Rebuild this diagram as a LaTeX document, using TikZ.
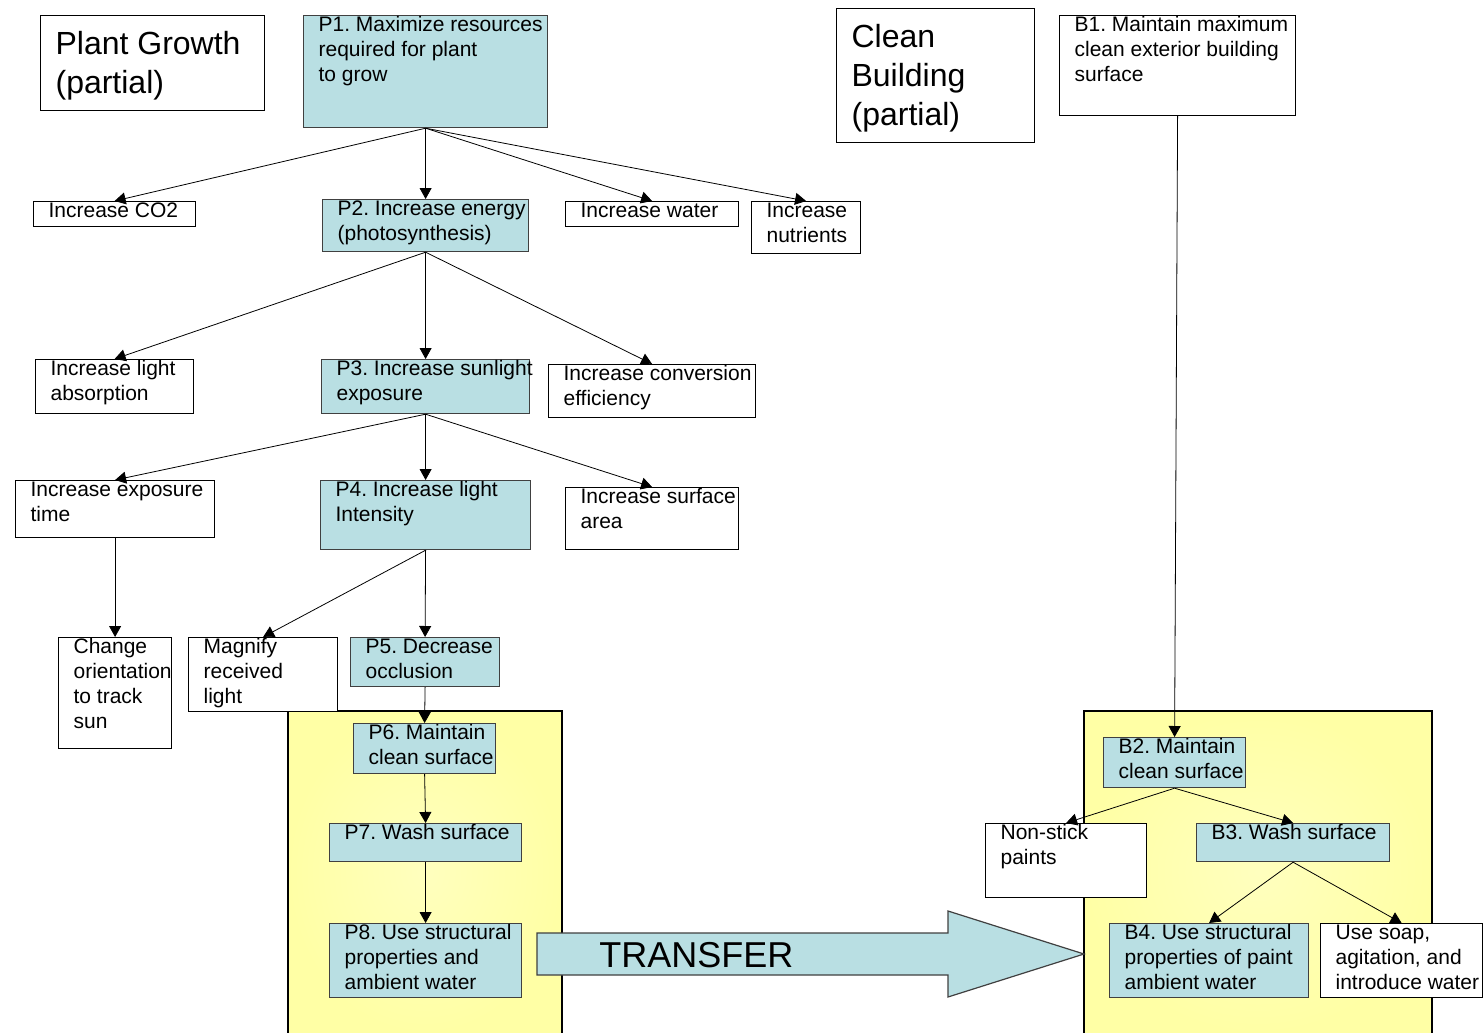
\documentclass[tikz,border=0pt]{standalone}
\usepackage{fontspec}
\setmainfont{Liberation Sans}
\frenchspacing
\usetikzlibrary{arrows.meta}
\definecolor{cellblue}{RGB}{185,223,227}
\definecolor{paneledge}{RGB}{255,255,165}
\definecolor{panelmid}{RGB}{255,255,190}
\definecolor{edgegray}{RGB}{64,64,64}
\newlength\pxu
\setlength\pxu{0.5pt}
% box of fixed size (in px), text set from the top
\newcommand\cell[3]{\parbox[t][#2\pxu][t]{#1\pxu}{\raggedright\leftskip=7.5pt\rightskip=-30pt plus 1fil\rule{0pt}{7.75pt}#3}}
% box of fixed size (in px), text centred in height
\newcommand\headcell[3]{\parbox[t][#2\pxu][c]{#1\pxu}{\raggedright\leftskip=7.5pt\rightskip=-30pt plus 1fil\vspace*{5\pxu}#3}}
\tikzset{
  goal/.style={draw=edgegray, fill=cellblue, line width=0.6pt, inner sep=0pt, anchor=north west, font=\fontsize{10.5}{12.5}\selectfont},
  option/.style={goal, draw=black, fill=white},
  heading/.style={draw=black, fill=white, line width=0.6pt, inner sep=0pt, anchor=north west, font=\fontsize{16}{19.6}\selectfont},
  panel/.style={inner color=panelmid, outer color=paneledge},
}
\begin{document}
\begin{tikzpicture}[x=0.5pt, y=-0.5pt, >={Triangle[length=5.5pt,width=6pt]}]
\useasboundingbox (0,0) rectangle (1484,1033);

% yellow panels
\shade[panel] (288,711) rectangle (562,1033);
\draw[line width=1pt] (288,1033) |- (562,711) -- (562,1033);
\shade[panel] (1084,711) rectangle (1432,1033);
\draw[line width=1pt] (1084,1033) |- (1432,711) -- (1432,1033);

% transfer arrow
\draw[edgegray, fill=cellblue, line width=0.6pt] (537,933) -- (948,933) -- (948,911) -- (1084,954)
  -- (948,997) -- (948,975) -- (537,975) -- cycle;
\node[anchor=west, inner sep=0pt, font=\fontsize{18}{21}\selectfont] (transfer) at (599,955) {TRANSFER};

% plant growth
\node[heading] (plant) at (40,15) {\headcell{224}{95}{Plant Growth\\(partial)}};
\node[goal] (p1) at (303,15) {\cell{244}{112}{P1. Maximize resources\\required for plant\\to grow}};
\node[option] (co2) at (33,201) {\cell{162}{25}{Increase CO2}};
\node[goal] (p2) at (322,199) {\cell{206}{52}{P2. Increase energy\\(photosynthesis)}};
\node[option] (water) at (565,201) {\cell{173}{25}{Increase water}};
\node[option] (nutrients) at (751,201) {\cell{109}{52}{Increase\\nutrients}};
\node[option] (absorb) at (35,359) {\cell{158}{54}{Increase light\\absorption}};
\node[goal] (p3) at (321,359) {\cell{208}{54}{P3. Increase sunlight\\exposure}};
\node[option] (convert) at (548,364) {\cell{207}{53}{Increase conversion\\efficiency}};
\node[option] (exptime) at (15,480) {\cell{199}{57}{Increase exposure\\time}};
\node[goal] (p4) at (320,480) {\cell{210}{69}{P4. Increase light\\Intensity}};
\node[option] (surface) at (565,487) {\cell{173}{62}{Increase surface\\area}};
\node[option] (track) at (58,637) {\cell{113}{111}{Change\\orientation\\to track\\sun}};
\node[option] (magnify) at (188,637) {\cell{149}{74}{Magnify\\received\\light}};
\node[goal] (p5) at (350,637) {\cell{149}{49}{P5. Decrease\\occlusion}};
\node[goal] (p6) at (353,723) {\cell{142}{50}{P6. Maintain\\clean surface}};
\node[goal] (p7) at (329,823) {\cell{192}{38}{P7. Wash surface}};
\node[goal] (p8) at (329,923) {\cell{192}{74}{P8. Use structural\\properties and\\ambient water}};

% clean building
\node[heading] (building) at (836,8) {\headcell{198}{134}{Clean\\Building\\(partial)}};
\node[option] (b1) at (1059,15) {\cell{236}{100}{B1. Maintain maximum\\clean exterior building\\surface}};
\node[goal] (b2) at (1103,737) {\cell{142}{50}{B2. Maintain\\clean surface}};
\node[option] (nonstick) at (985,823) {\cell{161}{74}{Non-stick\\paints}};
\node[goal] (b3) at (1196,823) {\cell{193}{38}{B3. Wash surface}};
\node[goal] (b4) at (1109,923) {\cell{199}{74}{B4. Use structural\\properties of paint\\ambient water}};
\node[option] (soap) at (1320,923) {\cell{162}{74}{Use soap,\\agitation, and\\introduce water}};

\draw[->] (p1.south)--(co2.north);
\draw[->] (p1.south)--(p2.north);
\draw[->] (p1.south)--(water.north);
\draw[->] (p1.south)--(nutrients.north);
\draw[->] (p2.south)--(absorb.north);
\draw[->] (p2.south)--(p3.north);
\draw[->] (p2.south)--(convert.north);
\draw[->] (p3.south)--(exptime.north);
\draw[->] (p3.south)--(p4.north);
\draw[->] (p3.south)--(surface.north);
\draw[->] (exptime.south)--(track.north);
\draw[->] (p4.south)--(magnify.north);
\draw[->] (p4.south)--(p5.north);
\draw[->] (p5.south)--(p6.north);
\draw[->] (p6.south)--(p7.north);
\draw[->] (p7.south)--(p8.north);

\draw[->] (b1.south)--(b2.north);
\draw[->] (b2.south)--(nonstick.north);
\draw[->] (b2.south)--(b3.north);
\draw[->] (b3.south)--(b4.north);
\draw[->] (b3.south)--(soap.north);
\end{tikzpicture}
\end{document}
